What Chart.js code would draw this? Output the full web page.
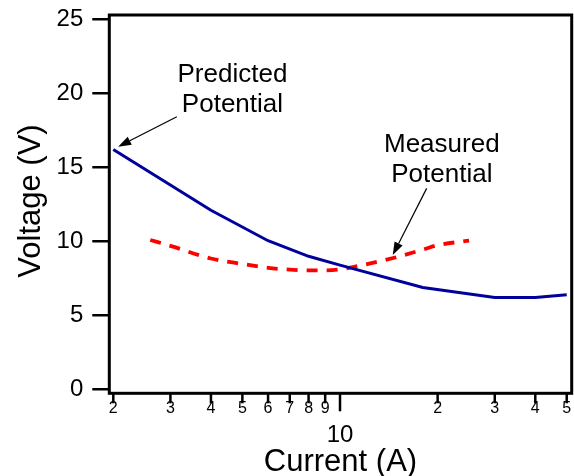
<!DOCTYPE html>
<html>
<head>
<meta charset="utf-8">
<script src="https://cdn.jsdelivr.net/npm/chart.js@4/dist/chart.umd.min.js"></script>
<style>
  html, body { margin: 0; padding: 0; background: #fff; }
  canvas { display: block; }
</style>
</head>
<body>
<canvas id="chart" width="574" height="476"></canvas>
<script>
// predicted potential (solid blue)
const predictedCurrent = [2, 4, 6, 8, 10, 18, 30, 40, 50];
const predictedVoltage = [16.2, 12.1, 10.05, 9.0, 8.4, 6.9, 6.22, 6.22, 6.4];

// measured potential (dashed red)
const measuredCurrent = [2.6, 3, 4, 5, 6, 7, 8, 9, 10, 12, 15, 18, 20, 25];
const measuredVoltage = [10.1, 9.7, 8.85, 8.48, 8.22, 8.1, 8.05, 8.05, 8.12, 8.45, 8.95, 9.45, 9.75, 10.05];

const yTicks = [0, 5, 10, 15, 20, 25];
const xMinorTicks = [2, 3, 4, 5, 6, 7, 8, 9, 20, 30, 40, 50];
const xMinorLabels = ['2', '3', '4', '5', '6', '7', '8', '9', '2', '3', '4', '5'];
const xMajorTicks = [10];
const xMajorLabels = ['10'];

const FONT = '"Liberation Sans", Arial, Helvetica, sans-serif';

function toPoints(xs, ys) {
    return xs.map((x, i) => ({ x: x, y: ys[i] }));
}

function arrow(ctx, x1, y1, x2, y2) {
    const a = Math.atan2(y2 - y1, x2 - x1);
    const len = 13, hw = 4.5;
    const bx = x2 - len * Math.cos(a), by = y2 - len * Math.sin(a);
    ctx.beginPath();
    ctx.moveTo(x1, y1);
    ctx.lineTo(bx, by);
    ctx.lineWidth = 1.2;
    ctx.strokeStyle = '#000';
    ctx.stroke();
    ctx.beginPath();
    ctx.moveTo(x2, y2);
    ctx.lineTo(bx + hw * Math.sin(a), by - hw * Math.cos(a));
    ctx.lineTo(bx - hw * Math.sin(a), by + hw * Math.cos(a));
    ctx.closePath();
    ctx.fillStyle = '#000';
    ctx.fill();
}

const framePlugin = {
    id: 'frame',
    afterDraw(chart) {
        const ctx = chart.ctx;
        const a = chart.chartArea;
        const xs = chart.scales.x, ys = chart.scales.y;
        ctx.save();

        // box
        ctx.strokeStyle = '#000';
        ctx.lineWidth = 3;
        ctx.strokeRect(a.left, a.top, a.right - a.left, a.bottom - a.top);

        // x ticks + labels
        ctx.fillStyle = '#000';
        ctx.textAlign = 'center';
        ctx.textBaseline = 'middle';
        ctx.lineWidth = 2.5;
        xMinorTicks.forEach((v, i) => {
            const px = xs.getPixelForValue(v);
            ctx.beginPath();
            ctx.moveTo(px, a.bottom);
            ctx.lineTo(px, a.bottom + 10);
            ctx.stroke();
            ctx.font = '16px ' + FONT;
            ctx.fillText(xMinorLabels[i], px, a.bottom + 15);
        });
        xMajorTicks.forEach((v, i) => {
            const px = xs.getPixelForValue(v);
            ctx.beginPath();
            ctx.moveTo(px, a.bottom);
            ctx.lineTo(px, a.bottom + 18);
            ctx.stroke();
            ctx.font = '24px ' + FONT;
            ctx.fillText(xMajorLabels[i], px, a.bottom + 42);
        });

        // axis titles
        ctx.font = '31px ' + FONT;
        ctx.textBaseline = 'alphabetic';
        ctx.fillText('Current (A)', (a.left + a.right) / 2, 471);
        ctx.save();
        ctx.translate(40, 201);
        ctx.rotate(-Math.PI / 2);
        ctx.fillText('Voltage (V)', 0, 0);
        ctx.restore();

        // annotations
        ctx.font = '26px ' + FONT;
        const px = v => xs.getPixelForValue(v), py = v => ys.getPixelForValue(v);
        ctx.fillText('Predicted', px(4.66), py(20.77));
        ctx.fillText('Potential', px(4.66), py(18.75));
        ctx.fillText('Measured', px(20.6), py(16.05));
        ctx.fillText('Potential', px(20.6), py(14.03));
        arrow(ctx, px(3.14), py(18.41), px(2.07), py(16.39));
        arrow(ctx, px(18.5), py(13.58), px(14.54), py(9.08));

        ctx.restore();
    }
};

new Chart(document.getElementById('chart'), {
    type: 'line',
    data: {
        datasets: [
            {
                label: 'Predicted Potential',
                data: toPoints(predictedCurrent, predictedVoltage),
                borderColor: '#00009c',
                borderWidth: 3,
                pointRadius: 0,
                tension: 0
            },
            {
                label: 'Measured Potential',
                data: toPoints(measuredCurrent, measuredVoltage),
                borderColor: '#ff0000',
                borderWidth: 3.8,
                borderDash: [11, 9],
                pointRadius: 0,
                cubicInterpolationMode: 'monotone'
            }
        ]
    },
    options: {
        responsive: false,
        animation: false,
        layout: { padding: { top: 15, right: 2.3, left: 0, bottom: 0 } },
        plugins: {
            legend: { display: false },
            tooltip: { enabled: false }
        },
        scales: {
            x: {
                type: 'logarithmic',
                min: 1.944,
                max: 51.8,
                ticks: { display: false },
                grid: { display: false },
                border: { display: false },
                afterFit: s => { s.height = 82.7; s.paddingLeft = 0; s.paddingRight = 0; }
            },
            y: {
                type: 'linear',
                min: -0.24,
                max: 25.27,
                afterBuildTicks: s => { s.ticks = yTicks.map(v => ({ value: v })); },
                ticks: {
                    color: '#000',
                    font: { family: FONT, size: 24 },
                    padding: 9
                },
                grid: {
                    drawOnChartArea: false,
                    drawTicks: true,
                    tickLength: 17,
                    lineWidth: 2.5,
                    color: '#000'
                },
                border: { display: false },
                afterFit: s => { s.width = 109.3; s.paddingTop = 0; s.paddingBottom = 0; }
            }
        }
    },
    plugins: [framePlugin]
});
</script>
</body>
</html>
